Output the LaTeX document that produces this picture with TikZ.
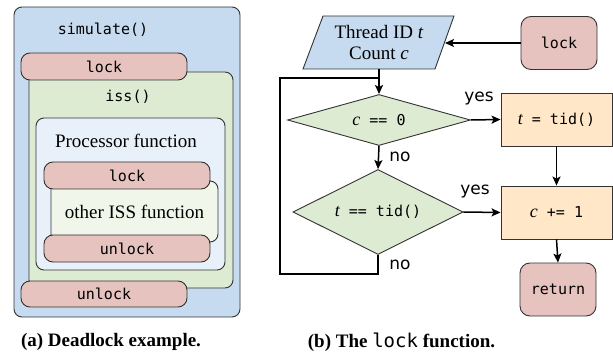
\documentclass[tikz,border=0pt]{standalone}
\usepackage{fontspec}
\setmainfont{Liberation Serif}
\setsansfont{DejaVu Sans}
\setmonofont{DejaVu Sans Mono}
\usetikzlibrary{arrows.meta,shapes.geometric}

\definecolor{simblue}{HTML}{C6DBEF}
\definecolor{issgreen}{HTML}{DDEBD3}
\definecolor{procblue}{HTML}{E8F0FA}
\definecolor{othergreen}{HTML}{F1F6EA}
\definecolor{lockpink}{HTML}{E6C3BE}
\definecolor{stepor}{HTML}{FFE7C7}
\definecolor{edgegray}{HTML}{333333}

% italic serif variable inside monospaced code
\newcommand{\codevar}[1]{{\rmfamily\itshape\fontsize{18}{18}\selectfont #1}}

\tikzset{
  frame/.style={draw=edgegray, line width=0.9pt, inner sep=0pt, rounded corners=8pt},
  pill/.style={frame, fill=lockpink, rounded corners=9pt, minimum width=166pt,
    minimum height=27pt, font=\fontsize{15}{18}\selectfont\ttfamily},
  title/.style={inner sep=0pt},
  flow/.style={draw=edgegray, line width=0.9pt, inner sep=0pt},
  endbox/.style={flow, fill=lockpink, rounded corners=10pt, minimum width=76pt,
    minimum height=53pt, font=\fontsize{15}{18}\selectfont\ttfamily},
  stepbox/.style={flow, fill=stepor, minimum width=111pt, minimum height=53pt,
    font=\fontsize{15}{18}\selectfont\ttfamily},
  test/.style={flow, fill=issgreen, diamond, aspect=3,
    font=\fontsize{15}{18}\selectfont\ttfamily},
  conn/.style={line width=1.5pt, -{Stealth[length=9pt,width=8pt,inset=2pt]}},
  wire/.style={line width=1.5pt},
  answer/.style={inner sep=0pt, font=\fontsize{17}{18}\selectfont\sffamily},
  caption/.style={inner sep=0pt, font=\fontsize{19}{21}\selectfont\bfseries}
}

\begin{document}
\begin{tikzpicture}[x=1pt, y=-1pt]
\useasboundingbox (0,0) rectangle (613,358);

% ---- (a) nested calls ----
\node[frame, fill=simblue, minimum width=226pt, minimum height=310pt] (sim) at (127,162) {};
\node[title, font=\fontsize{15}{18}\selectfont\ttfamily] (simt) at (103,30) {simulate()};
\node[frame, fill=issgreen, minimum width=204pt, minimum height=216pt] (iss) at (131,180) {};
\node[title, font=\fontsize{15}{18}\selectfont\ttfamily] (isst) at (128,97) {iss()};
\node[frame, fill=procblue, minimum width=189pt, minimum height=152pt] (proc) at (130.5,194) {};
\node[title, font=\fontsize{19}{21}\selectfont] (proct) at (126,141) {Processor function};
\node[frame, fill=othergreen, minimum width=167pt, minimum height=61pt,
  font=\fontsize{19}{21}\selectfont] (other) at (134.5,211.5) {other ISS function};
\node[pill] (lockA) at (104,66.5) {lock};
\node[pill] (lockB) at (127,175.5) {lock};
\node[pill] (unlockB) at (127,248.5) {unlock};
\node[pill, minimum height=26pt] (unlockA) at (104,294) {unlock};

% ---- (b) the lock function ----
\draw[flow, fill=simblue] (323,16) -- (454,16) -- (435,69) -- (303,69) -- cycle;
\node[title, font=\fontsize{19}{21}\selectfont, align=center] (param) at (379,43)
  {Thread ID \textit{t}\\Count \textit{c}};
\coordinate (paramE) at (445,43);
\coordinate (paramS) at (379,69);

\node[endbox] (lock) at (559,43) {lock};
\node[test, minimum width=183pt, minimum height=51pt] (dzero) at (379,120)
  {\codevar{c} == 0};
\node[test, minimum width=170pt, minimum height=85pt] (downer) at (378,212)
  {\codevar{t} == tid()};
\node[stepbox] (setown) at (556.5,119.5) {\codevar{t} = tid()};
\node[stepbox] (incr) at (556.5,212.5) {\codevar{c} += 1};
\node[endbox] (ret) at (558,289.5) {return};

\coordinate (loopB) at (280,274);
\coordinate (join) at (379,78);

\draw[conn] (lock.west) -- (paramE);
\draw[conn] (paramS) -- (dzero.north);
\draw[conn] (dzero.east) -- (setown.west);
\draw[conn] (dzero.south) -- (downer.north);
\draw[conn] (downer.east) -- (incr.west);
\draw[conn] (setown.south) -- (incr.north);
\draw[conn] (incr.south) -- (ret.north);
\draw[wire] (downer.south) |- (loopB) |- (join);

\node[answer] (yesA) at (479,99) {yes};
\node[answer] (noA) at (400,157) {no};
\node[answer] (yesB) at (475,192) {yes};
\node[answer] (noB) at (400,265) {no};

% ---- captions ----
\node[caption] (capa) at (111,342) {(a) Deadlock example.};
\node[caption] (capb) at (401.5,342) {(b) The {\mdseries\ttfamily lock} function.};
\end{tikzpicture}
\end{document}
